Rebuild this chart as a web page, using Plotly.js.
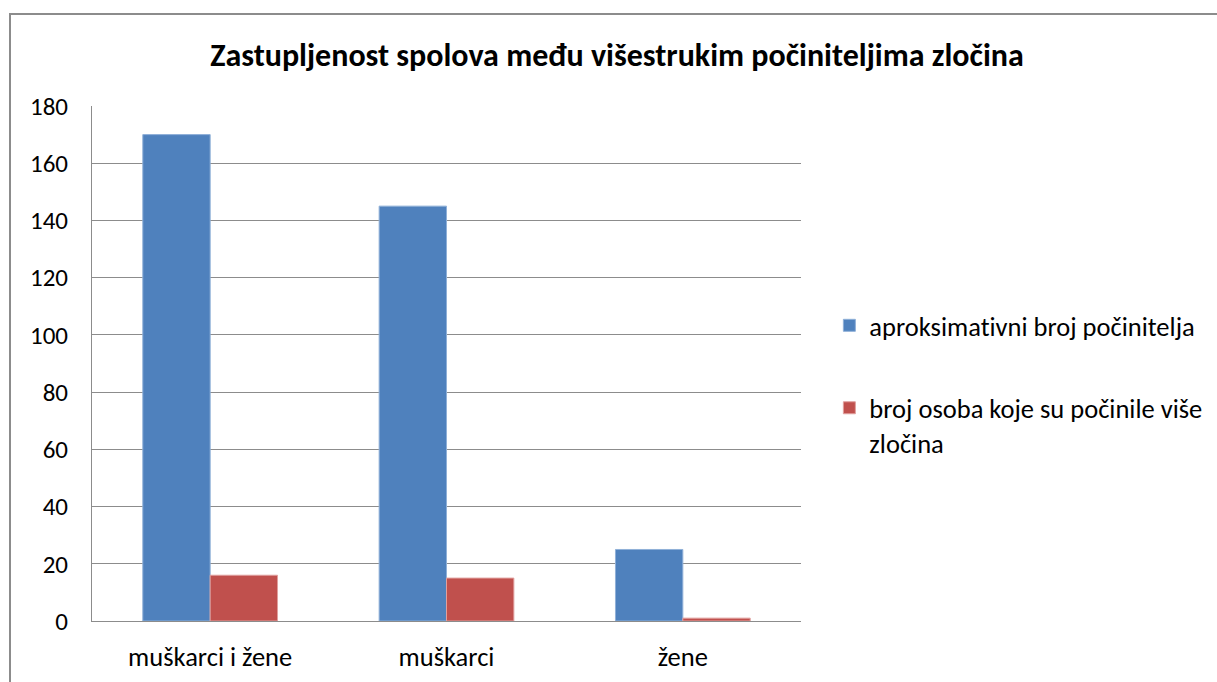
<!DOCTYPE html>
<html>
<head>
<meta charset="utf-8">
<script src="https://cdn.plot.ly/plotly-3.0.1.min.js"></script>
<style>
html,body{margin:0;padding:0;background:#fff;}
#wrap{position:relative;width:1217px;height:682px;overflow:hidden;}
#chart{position:absolute;left:0;top:0;width:1217px;height:682px;}
#frame{position:absolute;left:9px;top:13px;width:1300px;height:800px;border-left:2px solid #8c8c8c;border-top:2px solid #8c8c8c;pointer-events:none;}
#chart text, #chart tspan{font-variant-ligatures:none !important;font-feature-settings:"liga" 0, "clig" 0, "dlig" 0 !important;}
</style>
</head>
<body>
<div id="wrap"><div id="chart"></div><div id="frame"></div></div>
<script>
const categories = ["muškarci i žene", "muškarci", "žene"];
const seriesNames = ["aproksimativni broj počinitelja", "broj osoba koje su počinile više<br>zločina"];
const approxPerpetrators = [170, 145, 25];
const repeatOffenders = [16, 15, 1];
const yTicks = [0, 20, 40, 60, 80, 100, 120, 140, 160, 180];

const font = "Carlito, Calibri, Lato, 'Liberation Sans', Arial, sans-serif";

const traces = [
  {type: "bar", name: seriesNames[0], x: categories, y: approxPerpetrators, legendgroup: "a",
   marker: {color: "#4F81BD", line: {color: "#8fb0d8", width: 1}}, hoverinfo: "y"},
  {type: "bar", name: seriesNames[1], x: categories, y: repeatOffenders, legendgroup: "b",
   marker: {color: "#C0504D", line: {color: "#e0a09e", width: 1}}, hoverinfo: "y"}
];

const layout = {
  width: 1217, height: 682,
  margin: {l: 92, r: 416, t: 106, b: 61, autoexpand: false},
  paper_bgcolor: "rgba(0,0,0,0)", plot_bgcolor: "#fff",
  font: {family: font, size: 26, color: "#000"},
  title: {text: "<b>Zastupljenost spolova među višestrukim počiniteljima zločina</b>",
          font: {family: font, size: 32, color: "#000"},
          x: 0.507, xanchor: "center", y: 0.919, yanchor: "middle"},
  barmode: "group", bargap: 0.43, bargroupgap: 0,
  xaxis: {type: "category", showgrid: false, showline: true, linecolor: "#8c8c8c", linewidth: 1,
          ticks: "", tickfont: {size: 26.5}, ticklabelstandoff: 12, fixedrange: true, automargin: false},
  yaxis: {range: [0, 180], tickvals: yTicks, showgrid: true, gridcolor: "#8c8c8c", gridwidth: 1,
          showline: true, linecolor: "#8c8c8c", linewidth: 1, zeroline: false, automargin: false,
          ticks: "", tickfont: {size: 25}, ticklabelstandoff: 18, fixedrange: true},
  showlegend: true,
  legend: {x: 1.04, xanchor: "left", y: 0.46, yanchor: "middle", font: {size: 26.5},
           tracegroupgap: 45, itemwidth: 30, valign: "top", bgcolor: "rgba(0,0,0,0)", traceorder: "grouped"}
};

Plotly.newPlot("chart", traces, layout, {displayModeBar: false, staticPlot: true});
</script>
</body>
</html>
